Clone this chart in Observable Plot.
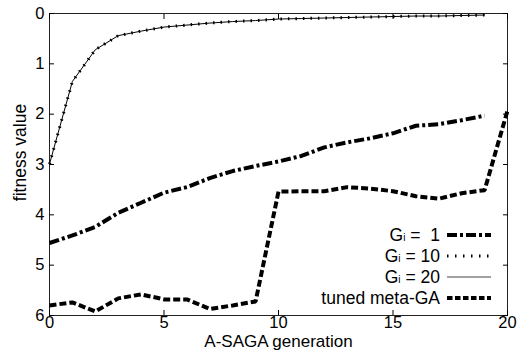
<!DOCTYPE html>
<html><head><meta charset="utf-8">
<script src="https://cdn.jsdelivr.net/npm/d3@7"></script>
<script src="https://cdn.jsdelivr.net/npm/@observablehq/plot@0.6"></script>
<style>body{margin:0;background:#fff;} svg{display:block;}</style>
</head><body>
<div id="chart"></div>
<script>
const generations = [0,1,2,3,4,5,6,7,8,9,10,11,12,13,14,15,16,17,18,19];
const generationsTuned = [0,1,2,3,4,5,6,7,8,9,10,11,12,13,14,15,16,17,18,19,20];
const gi1 = [4.56,4.41,4.24,3.96,3.76,3.56,3.45,3.27,3.13,3.03,2.94,2.83,2.66,2.56,2.48,2.38,2.23,2.20,2.12,2.03];
const gi10 = [2.99,1.35,0.72,0.44,0.35,0.27,0.23,0.19,0.16,0.14,0.11,0.10,0.09,0.08,0.07,0.06,0.05,0.05,0.04,0.03];
const gi20 = [2.99,1.35,0.72,0.44,0.35,0.27,0.23,0.19,0.16,0.14,0.11,0.10,0.09,0.08,0.07,0.06,0.05,0.05,0.04,0.03];
const tuned = [5.80,5.74,5.92,5.66,5.58,5.68,5.68,5.87,5.80,5.72,3.54,3.53,3.53,3.45,3.48,3.53,3.63,3.68,3.57,3.51,1.93];
const xTicks = [0,5,10,15,20];
const yTicks = [0,1,2,3,4,5,6];
const xTitle = "A-SAGA generation";
const yTitle = "fitness value";
const legendItems = [
  {pre:"G", sub:"i", post:" =  1", dash:"10,3,3,3", width:4},
  {pre:"G", sub:"i", post:" = 10", dash:"1.5,6.5", width:3},
  {pre:"G", sub:"i", post:" = 20", dash:null, width:1},
  {pre:"tuned meta-GA", sub:"", post:"", dash:"5.5,2.5", width:4}
];

const toRows = (xs, ys) => xs.map((g, i) => ({g, v: ys[i]}));
const fmt = d => String(d);

const font = "'Liberation Sans', Arial, sans-serif";
const plot = Plot.plot({
  width: 523, height: 354,
  marginLeft: 49, marginRight: 16, marginTop: 13, marginBottom: 39,
  style: {fontFamily: font, fontSize: "16.5px", background: "#fff", color: "#000"},
  x: {domain: [0, 20]},
  y: {domain: [0, 6], reverse: true},
  marks: [
    Plot.frame({stroke: "#222", strokeWidth: 1}),
    Plot.axisX({anchor: "bottom", ticks: xTicks, tickSize: 0, tickPadding: 1, tickFormat: fmt, label: null}),
    Plot.axisY({anchor: "left", ticks: yTicks, tickSize: 0, tickPadding: 5, tickFormat: fmt, label: null}),
    Plot.axisX({anchor: "bottom", ticks: xTicks, tickSize: -5, tickFormat: () => null, label: null}),
    Plot.axisX({anchor: "top", ticks: xTicks, tickSize: -5, tickFormat: () => null, label: null}),
    Plot.axisY({anchor: "left", ticks: yTicks, tickSize: -5, tickFormat: () => null, label: null}),
    Plot.axisY({anchor: "right", ticks: yTicks, tickSize: -5, tickFormat: () => null, label: null}),
    Plot.text([xTitle], {frameAnchor: "bottom", lineAnchor: "middle", textAnchor: "middle", dy: 26, fontSize: 17}),
    Plot.text([yTitle], {frameAnchor: "left", lineAnchor: "middle", textAnchor: "middle", rotate: -90, dx: -29, dy: -12, fontSize: 17.5}),
    Plot.line(toRows(generations, gi1), {x: "g", y: "v", stroke: "#000", strokeWidth: 4, strokeDasharray: "10,3,3,3", strokeLinecap: "butt", strokeLinejoin: "miter"}),
    Plot.line(toRows(generationsTuned, tuned), {x: "g", y: "v", stroke: "#000", strokeWidth: 4, strokeDasharray: "7,3", strokeLinecap: "butt", strokeLinejoin: "miter"}),
    Plot.line(toRows(generations, gi20), {x: "g", y: "v", stroke: "#000", strokeWidth: 1}),
    Plot.line(toRows(generations, gi10), {x: "g", y: "v", stroke: "#000", strokeWidth: 3, strokeDasharray: "1.5,6", strokeLinecap: "butt"})
  ]
});

// Legend inside the plot area (bottom-right)
const svg = d3.select(plot);
const lg = svg.append("g").attr("font-family", font).attr("font-size", 17.5);
const rowY = [235, 256, 277, 298];
legendItems.forEach((d, i) => {
  const t = lg.append("text")
    .attr("x", 440).attr("y", rowY[i]).attr("dy", "0.35em")
    .attr("text-anchor", "end").style("white-space", "pre");
  t.append("tspan").text(d.pre);
  if (d.sub) t.append("tspan").attr("font-size", 10).text(d.sub);
  if (d.post) t.append("tspan").text(d.post);
  lg.append("line")
    .attr("x1", 447).attr("x2", 491).attr("y1", rowY[i]).attr("y2", rowY[i])
    .attr("stroke", d.width === 1 ? "#444" : "#000").attr("stroke-width", d.width)
    .attr("stroke-dasharray", d.dash);
});

document.getElementById("chart").appendChild(plot);
</script>
</body></html>
